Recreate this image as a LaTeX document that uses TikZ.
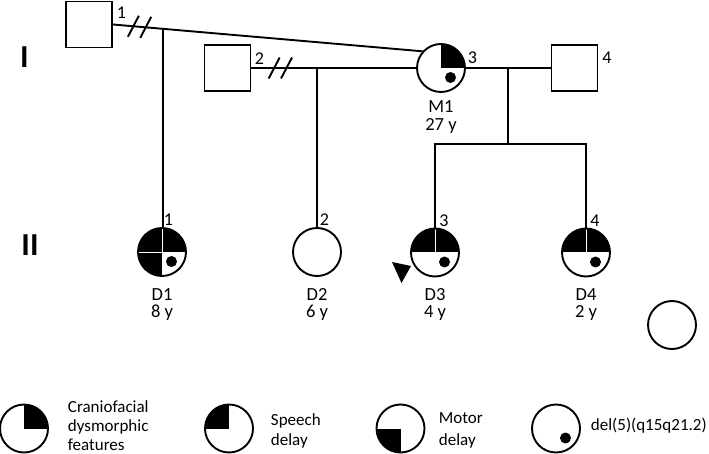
\documentclass[tikz,border=0pt]{standalone}
\usepackage{fontspec}
\setmainfont{Carlito}
\newcommand\qur{\fill (path picture bounding box.center) rectangle (path picture bounding box.north east);}
\newcommand\qul{\fill (path picture bounding box.center) rectangle (path picture bounding box.north west);}
\newcommand\qll{\fill (path picture bounding box.center) rectangle (path picture bounding box.south west);}
\newcommand\divV{\draw[white,line width=0.8pt] (path picture bounding box.center) -- (path picture bounding box.north);}
\newcommand\divH{\draw[white,line width=0.8pt] (path picture bounding box.center) -- (path picture bounding box.west);}
\newcommand\dotm{\fill ([xshift=9.5pt,yshift=-9.5pt]path picture bounding box.center) circle[radius=5.5pt];}
\begin{document}
\begin{tikzpicture}[x=1pt,y=-1pt,line width=1.9pt,
  ind/.style={circle,draw,line width=1.9pt,minimum size=48pt,inner sep=0pt},
  male/.style={rectangle,draw,line width=1.9pt,minimum size=46pt,inner sep=0pt},
  num/.style={font=\fontsize{18}{18}\selectfont,inner sep=0pt},
  lbl/.style={font=\fontsize{18.5}{18.5}\selectfont,inner sep=0pt,anchor=base},
  leg/.style={font=\fontsize{17}{17}\selectfont,inner sep=0pt,anchor=base west},
  gen/.style={font=\bfseries\fontsize{32}{32}\selectfont,inner sep=0pt},
  slash/.style={line width=1.9pt}]
\useasboundingbox (0,0) rectangle (709,454);

% generation labels
\node[gen] (gI) at (24.5,57.5) {I};
\node[gen] (gII) at (30,245) {II};

% generation I
\node[male] (F1) at (89,24.5) {};
\node[male] (F2) at (227.5,68) {};
\node[ind,path picture={\qur\dotm}] (M1) at (441,68) {};
\node[male] (F4) at (574.5,68) {};

\node[num] (n1) at (121.5,13) {1};
\node[num] (n2) at (259.5,58.5) {2};
\node[num] (n3) at (472.5,57.5) {3};
\node[num] (n4) at (607,57.5) {4};
\node[lbl] (tM1) at (441,113) {M1};
\node[lbl] (aM1) at (441,131) {27 y};

% generation II
\node[ind,path picture={\qul\qur\qll\divV\divH\dotm}] (D1) at (162,252) {};
\node[ind] (D2) at (317,252) {};
\node[ind,path picture={\qul\qur\divV\dotm}] (D3) at (435,252.5) {};
\node[ind,path picture={\qul\qur\divV\dotm}] (D4) at (586,252.5) {};
\node[ind] (X) at (672,325) {};

\node[num] (m1) at (168.5,220) {1};
\node[num] (m2) at (324.5,220) {2};
\node[num] (m3) at (444,221) {3};
\node[num] (m4) at (595,221) {4};

\node[lbl] (tD1) at (162,300) {D1};
\node[lbl] (aD1) at (162,317) {8 y};
\node[lbl] (tD2) at (317,300) {D2};
\node[lbl] (aD2) at (317,317) {6 y};
\node[lbl] (tD3) at (435,300) {D3};
\node[lbl] (aD3) at (435,317) {4 y};
\node[lbl] (tD4) at (586,300) {D4};
\node[lbl] (aD4) at (586,317) {2 y};

% proband arrow
\fill (392,262) -- (411,266) -- (401.5,283) -- cycle;

% connectors
\draw (F1.east) -- coordinate[pos=0.066] (s1a) coordinate[pos=0.106] (s1b) coordinate[pos=0.161] (j1) (M1.138);
\draw[slash] (s1a) ++(-5.5,10.5) -- ++(11,-21);
\draw[slash] (s1b) ++(-5.5,10.5) -- ++(11,-21);
\draw (j1) -- (j1 |- D1.north);

\draw (F2.east) -- coordinate[pos=0.138] (s2a) coordinate[pos=0.213] (s2b) (M1.west);
\draw[slash] (s2a) ++(-5.5,10.5) -- ++(11,-21);
\draw[slash] (s2b) ++(-5.5,10.5) -- ++(11,-21);
\draw (D2.north |- F2.east) -- (D2.north);

\draw (M1.east) -- coordinate[midway] (mid) (F4.west);
\coordinate (sibline) at (0,144);
\draw (mid) -- (mid |- sibline);
\draw (D3.north) -- (D3.north |- sibline) -- (D4.north |- sibline) -- (D4.north);

% legend
\node[ind,path picture={\qur}] (L1) at (24,428.5) {};
\node[leg] (L1a) at (67,412) {Craniofacial};
\node[leg] (L1b) at (67,431) {dysmorphic};
\node[leg] (L1c) at (67,450) {features};
\node[ind,path picture={\qul}] (L2) at (229,428.5) {};
\node[leg] (L2a) at (270,425) {Speech};
\node[leg] (L2b) at (270,445) {delay};
\node[ind,path picture={\qll}] (L3) at (400.5,428.5) {};
\node[leg] (L3a) at (438,423) {Motor};
\node[leg] (L3b) at (438,445) {delay};
\node[ind,path picture={\dotm}] (L4) at (556,428.5) {};
\node[leg] (L4a) at (590,430) {del(5)(q15q21.2)};
\end{tikzpicture}
\end{document}
